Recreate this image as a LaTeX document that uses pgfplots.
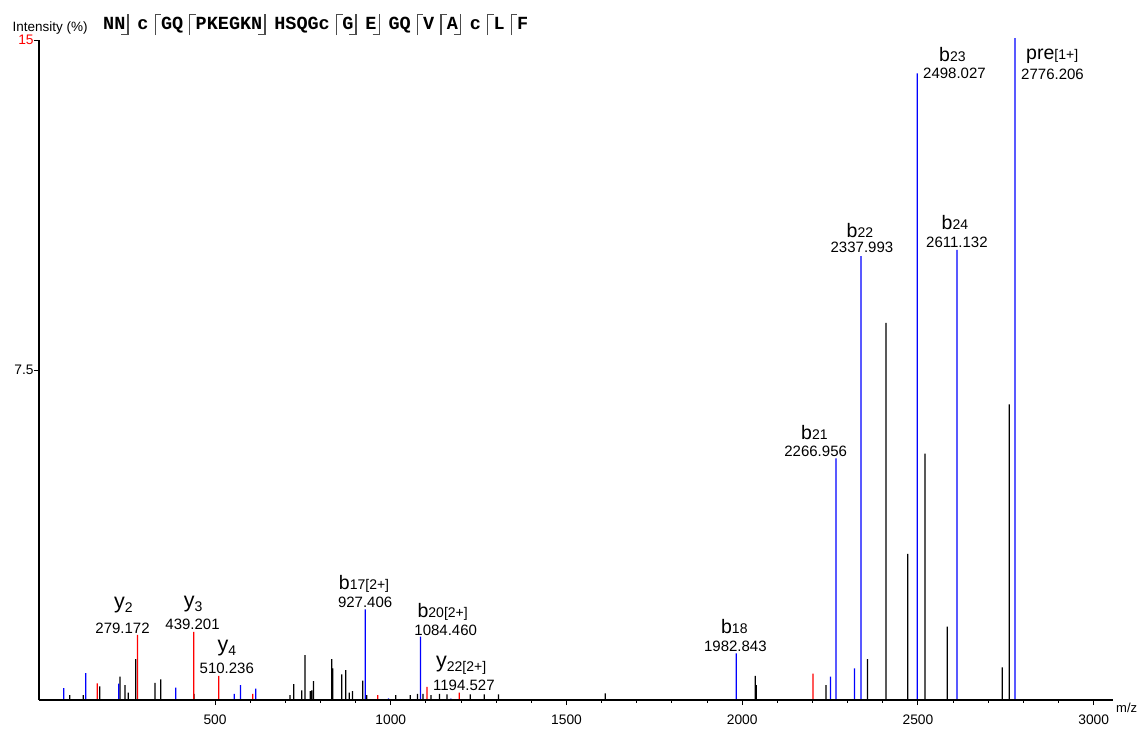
\documentclass[border=0pt]{standalone}
\usepackage{fontspec}
\setmainfont{Liberation Sans}
\newfontfamily\seqfont{Liberation Mono}
\usepackage{pgfplots}
\pgfplotsset{compat=1.18}
\definecolor{mk}{gray}{0.3}
\newcommand\fs[1]{\fontsize{#1bp}{#1bp}\selectfont}
\newcommand\bion[2]{{\fs{19.5}#1}{\fs{14}#2}}
\newcommand\yion[2]{{\fs{21.5}#1}\raisebox{-4bp}{\fs{14}#2}}
\newcommand\val[1]{{\fs{15}#1}}
\newcommand\mR{\kern6bp{\color{mk}\rule[-5.5bp]{1.2bp}{21.5bp}\rlap{\rule[14.8bp]{5.5bp}{1.2bp}}}\kern5.3bp}
\newcommand\mL{\kern2bp{\color{mk}\llap{\rule[-5.5bp]{6bp}{1.2bp}}\rule[-5.5bp]{1.2bp}{21.5bp}}\kern8.8bp}
\pgfplotsset{peak/.style={ybar, bar width=1.25bp, bar shift=0pt, draw=none, fill=#1}}
\begin{document}
\begin{tikzpicture}[x=1bp,y=1bp]
\path[use as bounding box] (0,0) rectangle (1145,-729);
\begin{axis}[at={(39.3bp,-700bp)}, anchor=south west, scale only axis,
  width=1073.7bp, height=660bp, xmin=0, xmax=3055, ymin=0, ymax=15, clip=false,
  axis x line=bottom, axis y line=left, axis line style={line width=2bp,-},
  axis on top,
  tick align=outside, major tick length=5bp, minor tick length=2.5bp,
  tick style={line width=1bp, black},
  xtick={500,1000,1500,2000,2500,3000}, xticklabels={500,1000,1500,2000,2500,3000},
  minor x tick num=4,
  ytick={7.5,15}, yticklabels={7.5,\textcolor{red}{15}},
  ticklabel style={font=\fs{13.8}},
  xticklabel style={inner sep=0pt, yshift=-10bp},
  yticklabel style={inner sep=0pt, xshift=-0.5bp},
]
% black peaks
\addplot[peak=black] coordinates {
(86.5,0.11) (125.2,0.11) (171.9,0.31) (229.7,0.53) (244,0.34) (253.3,0.17) (274.4,0.93)
(329.3,0.39) (345.6,0.47) (440.4,0.14) (713.6,0.11) (724.2,0.36) (746.9,0.22) (756.3,1.02)
(770.6,0.20) (775.4,0.22) (780,0.43) (832.3,0.93) (835.2,0.72) (860.8,0.58) (872.2,0.68)
(881.6,0.17) (891,0.20) (920.6,0.44) (932,0.11) (1014.5,0.11) (1055.2,0.11) (1076,0.14)
(1091.4,0.14) (1114.2,0.11) (1138.6,0.14) (1159.7,0.13) (1226,0.13) (1265.9,0.13)
(1306.6,0.13) (1610.3,0.15) (2037.3,0.55) (2040.1,0.34) (2238.5,0.34) (2356.1,0.93)
(2409.3,8.57) (2470.8,3.32) (2520,5.60) (2583,1.67) (2740,0.74) (2759.4,6.72)
};
% red peaks
\addplot[peak=red] coordinates {
(165.1,0.38) (279.172,1.48) (439.201,1.55) (510.236,0.55) (607.5,0.14) (963.3,0.11)
(1102.8,0.30) (1194.527,0.17) (2201.5,0.60)
};
% blue peaks
\addplot[peak=blue] coordinates {
(69.5,0.27) (132.1,0.61) (226,0.37) (388.3,0.28) (555,0.14) (572.2,0.34) (616,0.26)
(927.406,2.06) (993.5,0.04) (1084.460,1.44) (1171,0.03) (1982.843,1.06) (2250.8,0.53)
(2266.956,5.49) (2319.1,0.72) (2337.993,10.09) (2498.027,14.24) (2611.132,10.23)
(2776.206,15.04)
};
\node[inner sep=0] at (axis cs:239.1,2.16) {\yion{y}{2}};
\node[inner sep=0] at (axis cs:236.8,1.636) {\val{279.172}};
\node[inner sep=0] at (axis cs:437.5,2.18) {\yion{y}{3}};
\node[inner sep=0] at (axis cs:436.1,1.71) {\val{439.201}};
\node[inner sep=0] at (axis cs:533.4,1.19) {\yion{y}{4}};
\node[inner sep=0] at (axis cs:533.4,0.716) {\val{510.236}};
\node[inner sep=0] at (axis cs:924,2.65) {\bion{b}{17[2+]}};
\node[inner sep=0] at (axis cs:927,2.22) {\val{927.406}};
\node[inner sep=0] at (axis cs:1147.7,2.01) {\bion{b}{20[2+]}};
\node[inner sep=0] at (axis cs:1156.3,1.59) {\val{1084.460}};
\node[inner sep=0] at (axis cs:1200.4,0.795) {\yion{y}{22[2+]}};
\node[inner sep=0] at (axis cs:1208,0.33) {\val{1194.527}};
\node[inner sep=0] at (axis cs:1977.5,1.67) {\bion{b}{18}};
\node[inner sep=0] at (axis cs:1980.4,1.23) {\val{1982.843}};
\node[inner sep=0] at (axis cs:2205.2,6.08) {\bion{b}{21}};
\node[inner sep=0] at (axis cs:2208.9,5.66) {\val{2266.956}};
\node[inner sep=0] at (axis cs:2334.8,10.68) {\bion{b}{22}};
\node[inner sep=0] at (axis cs:2340.5,10.28) {\val{2337.993}};
\node[inner sep=0] at (axis cs:2598,14.66) {\bion{b}{23}};
\node[inner sep=0] at (axis cs:2603.8,14.25) {\val{2498.027}};
\node[inner sep=0] at (axis cs:2605.2,10.85) {\bion{b}{24}};
\node[inner sep=0] at (axis cs:2610.9,10.40) {\val{2611.132}};
\node[inner sep=0] at (axis cs:2881.9,14.63) {{\fs{19.5}pre}{\fs{14}[1+]}};
\node[inner sep=0] at (axis cs:2882.8,14.23) {\val{2776.206}};
\end{axis}
\node[anchor=base west, inner sep=0] at (12.5,-31.4) {\fs{13.5}Intensity (\%)};
\node[anchor=base west, inner sep=0] at (103,-29.6) {\seqfont\bfseries\fs{18.5}NN\mL c\mR GQ\mR PKEGKN\mL HSQGc\mR G\mL E\mL GQ\mR V\mR A\mL c\mR L\mR F};
\node[inner sep=0] at (1126.7,-707.5) {\fs{13}m/z};
\end{tikzpicture}
\end{document}
